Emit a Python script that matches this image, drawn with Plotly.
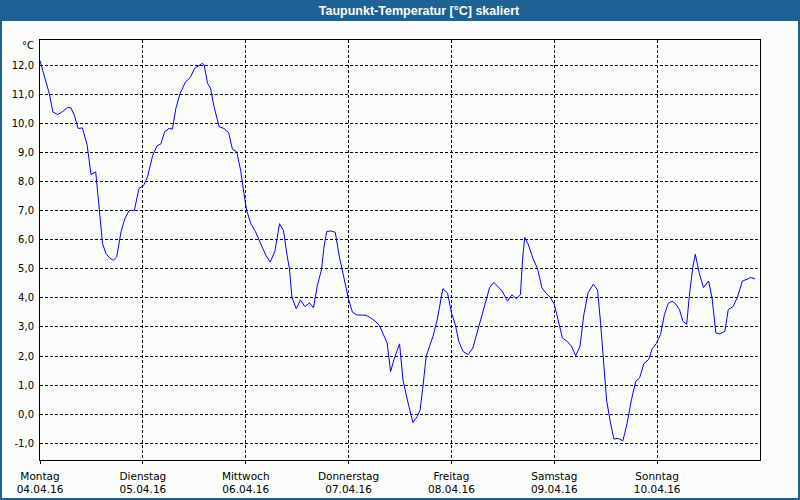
import pandas as pd
import plotly.graph_objects as go

# ---- data ----
start = "2016-04-04 00:00"
hours = [0.0, 1.6, 2.2, 3.0, 4.1, 5.0, 6.4, 7.2, 8.0, 8.9, 9.9, 11.0, 11.9, 13.0, 13.7, 14.6, 15.4, 16.2,
         17.1, 17.9, 18.9, 19.8, 20.8, 22.0, 23.1, 24.2, 25.1, 26.3, 27.3, 28.2, 29.1, 30.1, 30.9, 31.7,
         32.7, 34.0, 35.0, 36.1, 37.1, 37.9, 38.3, 39.1, 39.8, 40.6, 41.8, 42.9, 44.0, 44.9, 45.9, 46.8,
         47.6, 48.2, 49.2, 50.3, 51.5, 52.7, 53.7, 54.8, 55.9, 56.8, 57.6, 58.2, 58.8, 59.8, 60.8, 61.8,
         62.9, 63.8, 64.7, 65.7, 66.3, 66.9, 67.9, 68.9, 69.8, 71.0, 72.0, 72.9, 74.0, 74.9, 76.1, 77.1,
         78.2, 79.2, 80.2, 81.0, 81.8, 82.7, 83.9, 84.7, 85.8, 87.0, 88.0, 88.7, 89.4, 90.1, 90.9, 91.7,
         92.7, 93.5, 94.0, 95.1, 96.0, 96.9, 97.7, 98.7, 99.9, 101.0, 102.0, 103.1, 104.2, 104.9, 105.9,
         106.9, 107.8, 109.1, 110.1, 111.2, 112.1, 112.6, 113.1, 113.9, 115.1, 116.1, 117.1, 118.1, 119.1,
         120.0, 120.9, 121.9, 123.0, 124.0, 125.0, 126.0, 126.9, 127.9, 129.1, 130.1, 130.8, 131.5, 132.2,
         133.0, 133.9, 134.9, 136.0, 137.0, 138.0, 139.0, 139.9, 140.9, 142.0, 142.8, 143.8, 144.8, 145.7,
         146.6, 147.5, 148.4, 149.2, 150.0, 150.9, 151.5, 152.3, 152.9, 153.8, 154.8, 155.4, 156.0, 156.8,
         157.7, 158.6, 159.8, 160.6, 161.7, 162.7, 163.9, 165.0, 165.8, 166.8]
taupunkt = [12.15, 11.31, 11.0, 10.39, 10.30, 10.37, 10.54, 10.53, 10.28, 9.82, 9.84, 9.25, 8.24, 8.33, 7.30,
            5.86, 5.52, 5.38, 5.29, 5.41, 6.27, 6.72, 7.0, 7.0, 7.76, 7.87, 8.16, 8.90, 9.22, 9.29, 9.71,
            9.82, 9.80, 10.51, 11.03, 11.43, 11.56, 11.89, 11.98, 12.06, 12.0, 11.37, 11.2, 10.57, 9.88, 9.82,
            9.68, 9.11, 9.02, 8.39, 7.58, 7.01, 6.55, 6.27, 5.86, 5.46, 5.23, 5.60, 6.55, 6.32, 5.5, 5.0, 4.0,
            3.63, 3.93, 3.70, 3.83, 3.66, 4.41, 4.99, 5.79, 6.28, 6.30, 6.25, 5.45, 4.64, 3.95, 3.51, 3.41,
            3.41, 3.40, 3.32, 3.20, 3.05, 2.74, 2.45, 1.47, 1.93, 2.42, 1.18, 0.44, -0.28, -0.08, 0.15, 1.01,
            1.99, 2.34, 2.68, 3.26, 3.95, 4.32, 4.16, 3.49, 3.09, 2.51, 2.16, 2.05, 2.28, 2.80, 3.37, 3.97,
            4.35, 4.53, 4.39, 4.24, 3.89, 4.11, 3.97, 4.11, 5.33, 6.08, 5.85, 5.33, 5.0, 4.35, 4.16, 4.01,
            3.78, 3.20, 2.62, 2.51, 2.34, 2.01, 2.34, 3.43, 4.18, 4.47, 4.27, 3.14, 1.64, 0.49, -0.20, -0.85,
            -0.83, -0.91, -0.31, 0.50, 1.13, 1.25, 1.74, 1.88, 2.24, 2.43, 2.74, 3.43, 3.81, 3.89, 3.78,
            3.60, 3.20, 3.09, 4.06, 5.04, 5.50, 4.87, 4.35, 4.47, 4.58, 4.01, 2.80, 2.76, 2.85, 3.60, 3.70,
            4.01, 4.58, 4.64, 4.70, 4.66]

day_dates = ["2016-04-04", "2016-04-05", "2016-04-06", "2016-04-07", "2016-04-08", "2016-04-09", "2016-04-10"]
day_names = ["Montag", "Dienstag", "Mittwoch", "Donnerstag", "Freitag", "Samstag", "Sonntag"]
day_labels = ["04.04.16", "05.04.16", "06.04.16", "07.04.16", "08.04.16", "09.04.16", "10.04.16"]
y_ticks = [-1, 0, 1, 2, 3, 4, 5, 6, 7, 8, 9, 10, 11, 12]
y_ticktext = ["-1,0", "0,0", "1,0", "2,0", "3,0", "4,0", "5,0", "6,0", "7,0", "8,0", "9,0", "10,0", "11,0", "12,0"]
x_range = ["2016-04-04 00:00", "2016-04-11 00:00"]
y_range = [-1.57, 12.86]

title = "Taupunkt-Temperatur [°C] skaliert"
unit = "°C"

# ---- figure ----
times = pd.Timestamp(start) + pd.to_timedelta(hours, unit="h")

BLUE = "#1d6195"
BG = "#fbfdfb"
FONT = "DejaVu Sans"

fig = go.Figure(go.Scatter(x=times, y=taupunkt, mode="lines",
                           line=dict(color="#0000ff", width=1), hoverinfo="skip"))

W, H = 800, 500
ml, mr, mt, mb = 40, 40, 40, 40
pw, ph = W - ml - mr, H - mt - mb

def px_x(p):
    return (p - ml) / pw

def px_y(p):
    return 1 - (p - mt) / ph

shapes = [
    # title bar
    dict(type="rect", xref="paper", yref="paper", x0=px_x(0), x1=px_x(W), y0=px_y(21), y1=px_y(0),
         fillcolor=BLUE, line=dict(width=0), layer="below"),
    # outer frame
    dict(type="rect", xref="paper", yref="paper", x0=px_x(1), x1=px_x(W - 1), y0=px_y(H - 1), y1=px_y(20),
         fillcolor="rgba(0,0,0,0)", line=dict(color=BLUE, width=2), layer="above"),
]

fig.update_layout(
    width=W, height=H, autosize=False,
    margin=dict(l=ml, r=mr, t=mt, b=mb, pad=0),
    paper_bgcolor=BG, plot_bgcolor=BG,
    showlegend=False,
    font=dict(family=FONT, size=10, color="#000000"),
    title=dict(text=title, x=419 / W, xanchor="center", y=1 - 10.5 / H, yanchor="middle",
               font=dict(family="Liberation Sans", size=12.5, color="#ffffff", weight="bold")),
    shapes=shapes,
    annotations=[dict(text=unit, xref="paper", yref="paper", x=px_x(36), y=px_y(45.5),
                      xanchor="right", yanchor="middle", showarrow=False,
                      font=dict(family=FONT, size=10, color="#000000"))],
)

fig.update_xaxes(
    type="date", range=x_range, tickvals=day_dates,
    ticktext=[f"{n}<br>{d}" for n, d in zip(day_names, day_labels)],
    tickfont=dict(family=FONT, size=10.5), automargin=False,
    ticks="outside", ticklen=3, tickcolor="#000000", tickwidth=1, ticklabelstandoff=3,
    showgrid=True, gridcolor="#000000", gridwidth=1, griddash="3px,2px",
    showline=True, linecolor="#000000", linewidth=1, mirror=True,
    zeroline=False, fixedrange=True,
)
fig.update_yaxes(
    range=y_range, tickvals=y_ticks, ticktext=y_ticktext, automargin=False,
    ticks="", ticklabelstandoff=3,
    showgrid=True, gridcolor="#000000", gridwidth=1, griddash="3px,2px",
    showline=True, linecolor="#000000", linewidth=1, mirror=True,
    zeroline=False, fixedrange=True,
)

fig.write_html("out.html", config={"displayModeBar": False, "staticPlot": True},
               post_script="document.body.style.margin='0';document.body.style.overflow='hidden';")
